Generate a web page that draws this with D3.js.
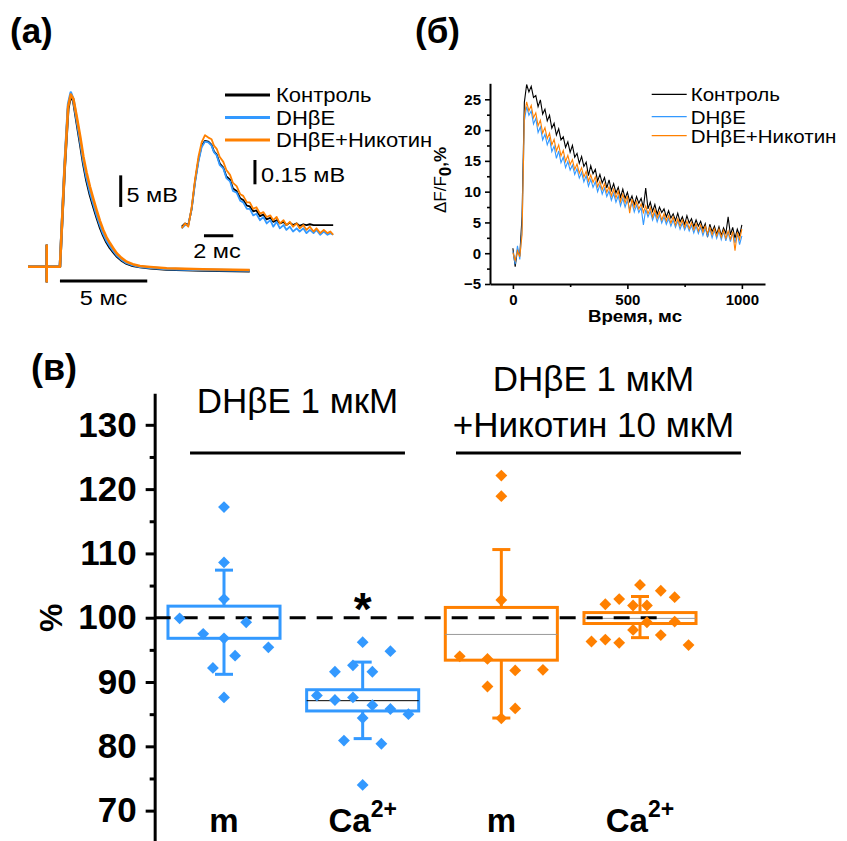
<!DOCTYPE html>
<html>

<head>
    <meta charset='utf-8' />
    <title>DHbE / Никотин</title>
    <script charset="utf-8" src="https://d3js.org/d3.v7.min.js"></script>
    <style>
        body {
            margin: 0;
            background: #fff;
        }

        svg text {
            font-family: 'Liberation Sans', Arial, Helvetica, sans-serif;
            fill: #000;
        }
    </style>
</head>

<body>
    <div id="chart"></div>
</body>

<script>
    // ---------- data ----------
    var seriesNames = ["Контроль", "DHβE", "DHβE+Никотин"]
    var seriesColors = ["#000000", "#3399ff", "#ff8000"]

    // (а) evoked potential, ms / mV
    var mainTime = [0, 1.02, 1.07, 1.07, 1.07, 1.07, 1.83, 2.1, 2.3, 2.45, 2.6, 2.79, 3.0, 3.17, 3.35, 3.55, 3.75, 3.93, 4.12, 4.31, 4.5, 4.7, 4.9, 5.08, 5.35, 5.65, 6.0, 6.41, 7.0, 7.94, 10, 12.7]
    var mainBlack = [0.05, 0.05, 0.05, 3.4, -2.3, 0.05, 0.05, 15.6, 25.0, 27.2, 26.2, 22.9, 19.3, 16.3, 13.7, 11.4, 9.5, 7.9, 6.3, 5.0, 3.9, 3.0, 2.3, 1.7, 1.05, 0.55, 0.2, 0.0, -0.2, -0.4, -0.55, -0.65]
    var mainBlue = [0.05, 0.05, 0.05, 3.4, -2.3, 0.05, 0.05, 16.3, 25.8, 27.6, 26.5, 23.3, 19.8, 16.8, 14.2, 11.9, 10.0, 8.3, 6.7, 5.3, 4.2, 3.3, 2.55, 1.9, 1.2, 0.65, 0.3, 0.05, -0.1, -0.3, -0.45, -0.55]
    var mainOrange = [0.05, 0.05, 0.05, 3.4, -2.3, 0.05, 0.05, 15.9, 25.4, 27.3, 26.6, 23.8, 20.5, 17.5, 15.0, 12.7, 10.7, 9.0, 7.3, 5.85, 4.7, 3.75, 2.9, 2.17, 1.45, 0.84, 0.45, 0.16, 0.0, -0.2, -0.35, -0.47]

    // (а) inset, ms / mV
    var insTime = [0, 0.23, 0.45, 0.68, 0.91, 1.14, 1.36, 1.59, 1.82, 2.04, 2.2, 2.39, 2.6, 2.84, 3.05, 3.3, 3.5, 3.75, 4.0, 4.2, 4.45, 4.65, 4.88, 5.1, 5.35, 5.57, 5.8, 6.05, 6.25, 6.48, 6.7, 6.95, 7.15, 7.38, 7.6, 7.85, 8.05, 8.3, 8.52, 8.75, 9.0, 9.2, 9.45, 9.7, 9.95, 10.15, 10.34]
    var insBlack = [0.01, 0.03, 0.02, 0.12, 0.29, 0.42, 0.51, 0.54, 0.535, 0.515, 0.475, 0.455, 0.4, 0.375, 0.32, 0.3, 0.245, 0.23, 0.185, 0.175, 0.14, 0.135, 0.105, 0.11, 0.075, 0.085, 0.055, 0.065, 0.04, 0.05, 0.03, 0.04, 0.02, 0.035, 0.02, 0.03, 0.015, 0.025, 0.02, 0.025, 0.02, 0.02, 0.02, 0.02, 0.02, 0.02, 0.02]
    var insBlue = [0.0, 0.02, 0.02, 0.12, 0.28, 0.41, 0.5, 0.535, 0.53, 0.51, 0.47, 0.45, 0.39, 0.37, 0.31, 0.29, 0.23, 0.22, 0.17, 0.16, 0.12, 0.12, 0.08, 0.09, 0.05, 0.07, 0.03, 0.05, 0.01, 0.04, 0.0, 0.02, -0.01, 0.01, -0.02, 0.0, -0.02, 0.0, -0.03, -0.01, -0.03, -0.01, -0.04, -0.02, -0.04, -0.03, -0.04]
    var insOrange = [0.0, 0.03, 0.01, 0.13, 0.30, 0.44, 0.53, 0.575, 0.56, 0.55, 0.51, 0.49, 0.44, 0.41, 0.36, 0.33, 0.28, 0.26, 0.21, 0.2, 0.16, 0.16, 0.12, 0.13, 0.09, 0.1, 0.07, 0.08, 0.05, 0.07, 0.03, 0.05, 0.02, 0.04, 0.01, 0.03, 0.0, 0.02, -0.01, 0.01, -0.02, 0.0, -0.03, -0.01, -0.03, -0.02, -0.04]

    // (б) calcium transients, every 10 ms from 0 to 1000 ms, dF/F0 %
    var caTime = d3.range(0, 1001, 10)
    var caBlack = [0.8, -2.2, 0.6, -0.4, 6, 24.5, 27.4, 26.2, 27.1, 25.3,
        25.6, 23.8, 24.9, 22.6, 23.4, 21.5, 22.4, 20.3, 21.1, 19.2,
        20.2, 18.4, 18.9, 17.2, 18.1, 16.4, 17.5, 15.6, 16.2, 14.6,
        15.7, 14.1, 14.8, 12.6, 14.2, 12.9, 13.6, 11.7, 12.8, 11.4,
        12.3, 10.6, 11.9, 10.2, 11.3, 9.8, 10.7, 9.1, 10.4, 8.9,
        9.9, 8.4, 9.3, 7.9, 9.2, 8.1, 8.9, 7.4, 10.6, 7.2,
        8.3, 6.8, 7.9, 6.3, 7.5, 6.6, 7.2, 5.9, 6.9, 5.7,
        6.4, 5.3, 6.5, 5.1, 5.9, 4.7, 6.1, 4.9, 5.6, 4.3,
        5.4, 4.4, 5.2, 3.9, 4.8, 2.6, 4.7, 3.5, 4.4, 3.1,
        4.3, 2.9, 4.1, 3.2, 5.9, 3.0, 4.2, 2.4, 3.9, 2.9,
        4.6]
    var caBlue = [0.3, -1.8, 1.2, -1.0, 4, 21.5, 23.8, 22.4, 23.1, 21.0,
        21.9, 19.6, 20.5, 18.4, 19.3, 17.6, 18.6, 16.5, 17.4, 15.4,
        16.6, 14.7, 15.6, 13.9, 14.9, 13.5, 14.3, 12.8, 13.7, 12.2,
        13.1, 11.6, 12.6, 10.9, 12.0, 10.7, 11.6, 10.0, 11.1, 9.6,
        10.6, 9.2, 10.1, 8.6, 9.7, 8.3, 9.3, 7.7, 8.9, 7.5,
        8.6, 7.1, 8.2, 6.7, 7.8, 6.6, 7.4, 4.6, 7.1, 5.9,
        6.8, 5.4, 6.5, 5.1, 6.2, 4.9, 5.9, 4.7, 5.6, 4.4,
        5.4, 4.2, 5.2, 3.9, 4.9, 3.8, 4.7, 3.6, 4.5, 3.3,
        4.4, 3.2, 4.2, 2.9, 4.0, 2.8, 3.9, 2.5, 3.7, 2.4,
        3.6, 2.2, 3.5, 2.0, 3.4, 1.9, 3.3, 1.7, 3.2, 1.4,
        2.8]
    var caOrange = [0.1, -1.2, 0.4, -0.6, 3, 22.3, 24.6, 23.1, 24.0, 22.0,
        22.8, 20.7, 21.6, 19.5, 20.4, 18.6, 19.5, 17.6, 18.5, 16.6,
        17.6, 15.8, 16.7, 14.9, 15.9, 14.4, 15.2, 13.6, 14.5, 13.0,
        13.9, 12.4, 13.3, 11.7, 12.7, 11.5, 12.4, 10.8, 11.7, 10.3,
        11.3, 9.9, 10.8, 9.3, 10.4, 9.0, 10.1, 8.4, 9.6, 8.2,
        9.3, 6.5, 8.8, 7.4, 8.4, 7.2, 8.0, 6.6, 7.7, 6.4,
        7.4, 5.9, 7.1, 5.7, 6.7, 5.4, 6.4, 5.2, 6.1, 4.9,
        5.9, 4.6, 5.6, 4.4, 5.4, 4.2, 5.2, 4.0, 5.0, 3.8,
        4.8, 3.6, 4.6, 3.4, 4.4, 3.2, 4.2, 3.0, 4.0, 2.8,
        3.9, 2.6, 3.7, 2.4, 3.6, 2.3, 3.5, 0.4, 3.4, 2.2,
        3.9]
    var caYTicks = [-5, 0, 5, 10, 15, 20, 25]
    var caXTicks = [0, 500, 1000]

    // (в) box plots, % of control
    var boxCats = ["m", "Ca", "m", "Ca"]
    var boxColors = ["#3399ff", "#3399ff", "#ff8000", "#ff8000"]
    var boxTop = [101.8, 88.8, 101.6, 100.8]
    var boxBottom = [96.8, 85.5, 93.4, 99.1]
    var boxMedian = [null, 87.1, 97.4, 99.9]
    var medianColors = [null, "#000000", "#999999", "#999999"]
    var whiskerHigh = [107.4, 93.1, 110.6, 103.3]
    var whiskerLow = [91.2, 81.2, 84.4, 96.9]

    var ptsM1 = [117.2, 108.6, 102.9, 99.9, 99.3, 97.5, 96.8, 95.4, 94.1, 92.2, 87.6]
    var jitM1 = [0, 0, 0, -0.32, 0.16, -0.15, 0, 0.32, 0.08, -0.08, 0]
    var ptsCa1 = [96.2, 94.8, 92.6, 91.6, 91.6, 87.9, 87.2, 87.6, 86.4, 85.8, 85.0, 84.4, 80.9, 80.4, 74.0]
    var jitCa1 = [0, 0.2, -0.07, -0.2, 0.07, -0.33, -0.2, -0.07, 0.07, 0.2, 0.33, 0, -0.135, 0.135, 0]
    var ptsM2 = [122.1, 118.9, 102.75, 94.0, 93.6, 91.8, 91.9, 89.3, 85.9, 84.35]
    var jitM2 = [0, 0, 0, -0.3, -0.1, 0.1, 0.3, -0.1, 0.1, 0]
    var ptsCa2 = [105.1, 104.2, 103.2, 102.9, 102.1, 101.9, 101.9, 99.3, 99.4, 98.1, 97.3, 96.3, 96.6, 96.1, 95.75]
    var jitCa2 = [0, 0.15, 0.25, -0.15, -0.25, -0.05, 0.05, 0.05, 0.25, -0.05, 0.15, -0.35, -0.25, -0.15, 0.35]
    var boxPoints = [ptsM1, ptsCa1, ptsM2, ptsCa2]
    var boxJitter = [jitM1, jitCa1, jitM2, jitCa2]

    var pctTicks = [70, 80, 90, 100, 110, 120, 130]
    var pctMinor = [75, 85, 95, 105, 115, 125]
    var groupTitles = [["DHβE 1 мкМ"], ["DHβE 1 мкМ", "+Никотин 10 мкМ"]]

    // ---------- setup ----------
    var svg = d3.select("#chart").append("svg")
        .attr("width", 847)
        .attr("height", 841)
        .style("background", "#fff")

    // text helper, sx stretches the glyphs horizontally
    function addText(g, x, y, str, size, weight, anchor, sx) {
        return g.append("text")
            .attr("transform", "translate(" + x + "," + y + ") scale(" + (sx || 1) + ",1)")
            .attr("text-anchor", anchor || "start")
            .style("font-size", size + "px")
            .style("font-weight", weight || "normal")
            .text(str)
    }

    function zip(t, v) {
        return t.map(function (d, i) { return [d, v[i]] })
    }

    // panel letters
    addText(svg, 10, 43, "(а)", 35, "bold")
    addText(svg, 415, 43, "(б)", 35, "bold")
    addText(svg, 31, 380, "(в)", 36, "bold")

    // ---------- (а) ----------
    var gA = svg.append("g")
    var xMain = d3.scaleLinear().domain([0, 5]).range([28, 115.3])
    var yMain = d3.scaleLinear().domain([0, 5]).range([267, 235.4])
    var xIns = d3.scaleLinear().domain([0, 2]).range([181.7, 211])
    var yIns = d3.scaleLinear().domain([0, 0.15]).range([228.3, 204])

    var lineMain = d3.line().x(function (d) { return xMain(d[0]) }).y(function (d) { return yMain(d[1]) })
    var lineIns = d3.line().x(function (d) { return xIns(d[0]) }).y(function (d) { return yIns(d[1]) })

    var mainSets = [mainBlack, mainBlue, mainOrange]
    var insSets = [insBlack, insBlue, insOrange]
    mainSets.forEach(function (v, i) {
        gA.append("path").attr("d", lineMain(zip(mainTime, v)))
            .attr("fill", "none").attr("stroke", seriesColors[i]).attr("stroke-width", 2.6)
            .attr("stroke-linejoin", "round")
    })
    insSets.forEach(function (v, i) {
        gA.append("path").attr("d", lineIns(zip(insTime, v)))
            .attr("fill", "none").attr("stroke", seriesColors[i]).attr("stroke-width", 1.8)
            .attr("stroke-linejoin", "round")
    })

    // scale bars
    gA.append("line").attr("x1", xMain(1.83)).attr("x2", xMain(6.83))
        .attr("y1", yMain(-2.2)).attr("y2", yMain(-2.2)).attr("stroke", "#000").attr("stroke-width", 3)
    addText(gA, xMain(4.33), 305, "5 мс", 21, "normal", "middle", 1.12)
    gA.append("line").attr("x1", xMain(5.31)).attr("x2", xMain(5.31))
        .attr("y1", yMain(9.5)).attr("y2", yMain(14.5)).attr("stroke", "#000").attr("stroke-width", 3)
    addText(gA, 126.5, 201.5, "5 мВ", 21, "normal", "start", 1.12)
    gA.append("line").attr("x1", xIns(1.52)).attr("x2", xIns(3.52))
        .attr("y1", yIns(-0.046)).attr("y2", yIns(-0.046)).attr("stroke", "#000").attr("stroke-width", 3)
    addText(gA, 217, 258, "2 мс", 21, "normal", "middle", 1.12)
    gA.append("line").attr("x1", xIns(5.0)).attr("x2", xIns(5.0))
        .attr("y1", yIns(0.2716)).attr("y2", yIns(0.4216)).attr("stroke", "#000").attr("stroke-width", 3)
    addText(gA, 261, 181.5, "0.15 мВ", 21, "normal", "start", 1.12)

    // legend
    seriesNames.forEach(function (name, i) {
        var ly = 95 + i * 22.5
        gA.append("line").attr("x1", 225).attr("x2", 270).attr("y1", ly).attr("y2", ly)
            .attr("stroke", seriesColors[i]).attr("stroke-width", 3)
        addText(gA, 276, ly + 7, name, 20, "normal", "start", 1.1)
    })

    // ---------- (б) ----------
    var gB = svg.append("g")
    var xB = d3.scaleLinear().domain([-100, 1101]).range([490, 765])
    var yB = d3.scaleLinear().domain([-5, 27.6]).range([284, 83.3])
    var lineB = d3.line().x(function (d) { return xB(d[0]) }).y(function (d) { return yB(d[1]) })

    var caSets = [caBlack, caBlue, caOrange]
    caSets.forEach(function (v, i) {
        gB.append("path").attr("d", lineB(zip(caTime, v)))
            .attr("fill", "none").attr("stroke", seriesColors[i]).attr("stroke-width", 1.1)
    })

    gB.append("g").attr("transform", "translate(490,0)")
        .call(d3.axisLeft(yB).tickValues(caYTicks).tickSize(5).tickSizeOuter(0).tickPadding(4))
    gB.append("g").attr("transform", "translate(490,0)")
        .call(d3.axisLeft(yB).tickValues([-2.5, 2.5, 7.5, 12.5, 17.5, 22.5]).tickSize(3).tickFormat(""))
        .select(".domain").remove()
    gB.append("g").attr("transform", "translate(0,284)")
        .call(d3.axisBottom(xB).tickValues(caXTicks).tickSize(5).tickSizeOuter(0).tickPadding(5)
            .tickFormat(d3.format("d")))
    gB.append("g").attr("transform", "translate(0,284)")
        .call(d3.axisBottom(xB).tickValues([250, 750]).tickSize(3).tickFormat(""))
        .select(".domain").remove()
    gB.selectAll(".domain").attr("stroke-width", 2)
    gB.selectAll(".tick line").attr("stroke-width", 1.6)
    gB.selectAll(".tick text")
        .style("font-size", "15px")
        .style("font-weight", "bold")
        .style("font-family", "'Liberation Sans', Arial, sans-serif")

    addText(gB, 635, 322, "Время, мс", 17, "bold", "middle", 1.1)

    var yTitle = gB.append("text")
        .attr("transform", "translate(446,180) rotate(-90)")
        .attr("text-anchor", "middle")
        .style("font-size", "17px")
    yTitle.append("tspan").text("ΔF/F")
    yTitle.append("tspan").attr("dy", 5).style("font-weight", "bold").text("0")
    yTitle.append("tspan").attr("dy", -5).style("font-weight", "bold").text(",%")

    seriesNames.forEach(function (name, i) {
        var ly = [94.3, 116.7, 135.7][i]
        gB.append("line").attr("x1", 651.7).attr("x2", 686.7).attr("y1", ly).attr("y2", ly)
            .attr("stroke", seriesColors[i]).attr("stroke-width", 1.3)
        addText(gB, 690.7, ly + 7, name, 18, "normal", "start", 1.14)
    })

    // ---------- (в) ----------
    var gC = svg.append("g")
    var yC = d3.scaleLinear().domain([64.5, 134.9]).range([846, 393.3])
    var xC = d3.scaleLinear().domain([0, 3]).range([224, 640])
    var halfBox = 0.404, halfCap = 0.065

    gC.append("g").attr("transform", "translate(" + xC(-0.5) + ",0)")
        .call(d3.axisLeft(yC).tickValues(pctTicks).tickSize(9).tickSizeOuter(0).tickPadding(9))
    gC.append("g").attr("transform", "translate(" + xC(-0.5) + ",0)")
        .call(d3.axisLeft(yC).tickValues(pctMinor).tickSize(5).tickFormat(""))
        .select(".domain").remove()
    gC.selectAll(".domain").attr("stroke-width", 3)
    gC.selectAll(".tick line").attr("stroke-width", 3)
    gC.selectAll(".tick text")
        .style("font-size", "35px")
        .style("font-weight", "bold")
        .style("font-family", "'Liberation Sans', Arial, sans-serif")

    gC.append("text")
        .attr("transform", "translate(62," + yC(100) + ") rotate(-90)")
        .attr("text-anchor", "middle")
        .style("font-size", "32px")
        .style("font-weight", "bold")
        .text("%")

    // boxes, whiskers, medians
    boxCats.forEach(function (c, i) {
        var col = boxColors[i]
        gC.append("rect")
            .attr("x", xC(i - halfBox)).attr("width", xC(i + halfBox) - xC(i - halfBox))
            .attr("y", yC(boxTop[i])).attr("height", yC(boxBottom[i]) - yC(boxTop[i]))
            .attr("fill", "none").attr("stroke", col).attr("stroke-width", 3)
        if (boxMedian[i] !== null) {
            gC.append("line")
                .attr("x1", xC(i - halfBox)).attr("x2", xC(i + halfBox))
                .attr("y1", yC(boxMedian[i])).attr("y2", yC(boxMedian[i]))
                .attr("stroke", medianColors[i]).attr("stroke-width", 1)
        }
        var wh = [[boxTop[i], whiskerHigh[i]], [boxBottom[i], whiskerLow[i]]]
        wh.forEach(function (w) {
            gC.append("line").attr("x1", xC(i)).attr("x2", xC(i))
                .attr("y1", yC(w[0])).attr("y2", yC(w[1]))
                .attr("stroke", col).attr("stroke-width", 3)
            gC.append("line").attr("x1", xC(i - halfCap)).attr("x2", xC(i + halfCap))
                .attr("y1", yC(w[1])).attr("y2", yC(w[1]))
                .attr("stroke", col).attr("stroke-width", 3)
        })
    })

    // reference line at 100 %
    gC.append("line")
        .attr("x1", xC(-0.5)).attr("x2", xC(3.18))
        .attr("y1", yC(100)).attr("y2", yC(100))
        .attr("stroke", "#000").attr("stroke-width", 3)
        .attr("stroke-dasharray", "16,11")

    // individual points
    var diamond = d3.symbol().type(d3.symbolSquare).size(70)
    boxPoints.forEach(function (vals, i) {
        vals.forEach(function (v, k) {
            gC.append("path").attr("d", diamond())
                .attr("transform", "translate(" + xC(i + boxJitter[i][k]) + "," + yC(v) + ") rotate(45)")
                .attr("fill", boxColors[i])
        })
    })

    // significance
    addText(gC, xC(1), 625, "*", 46, "bold", "middle")

    // group headers and brackets
    var brackets = [[-0.245, 1.305], [1.673, 3.728]]
    brackets.forEach(function (b, gi) {
        gC.append("line").attr("x1", xC(b[0])).attr("x2", xC(b[1]))
            .attr("y1", 453).attr("y2", 453).attr("stroke", "#000").attr("stroke-width", 3)
        var cx = xC((b[0] + b[1]) / 2)
        var lines = groupTitles[gi]
        lines.forEach(function (t, li) {
            var by = lines.length === 1 ? 413 : 391 + li * 46
            addText(gC, cx - (gi === 1 ? 5 : 0), by, t, 35, "normal", "middle")
        })
    })

    // category labels
    boxCats.forEach(function (c, i) {
        var t = gC.append("text")
            .attr("x", xC(i)).attr("y", 832)
            .attr("text-anchor", "middle")
            .style("font-size", "33px")
            .style("font-weight", "bold")
        t.append("tspan").text(c)
        if (c === "Ca") {
            t.append("tspan").attr("dy", -15).style("font-size", "23px").text("2+")
        }
    })
</script>

</html>
